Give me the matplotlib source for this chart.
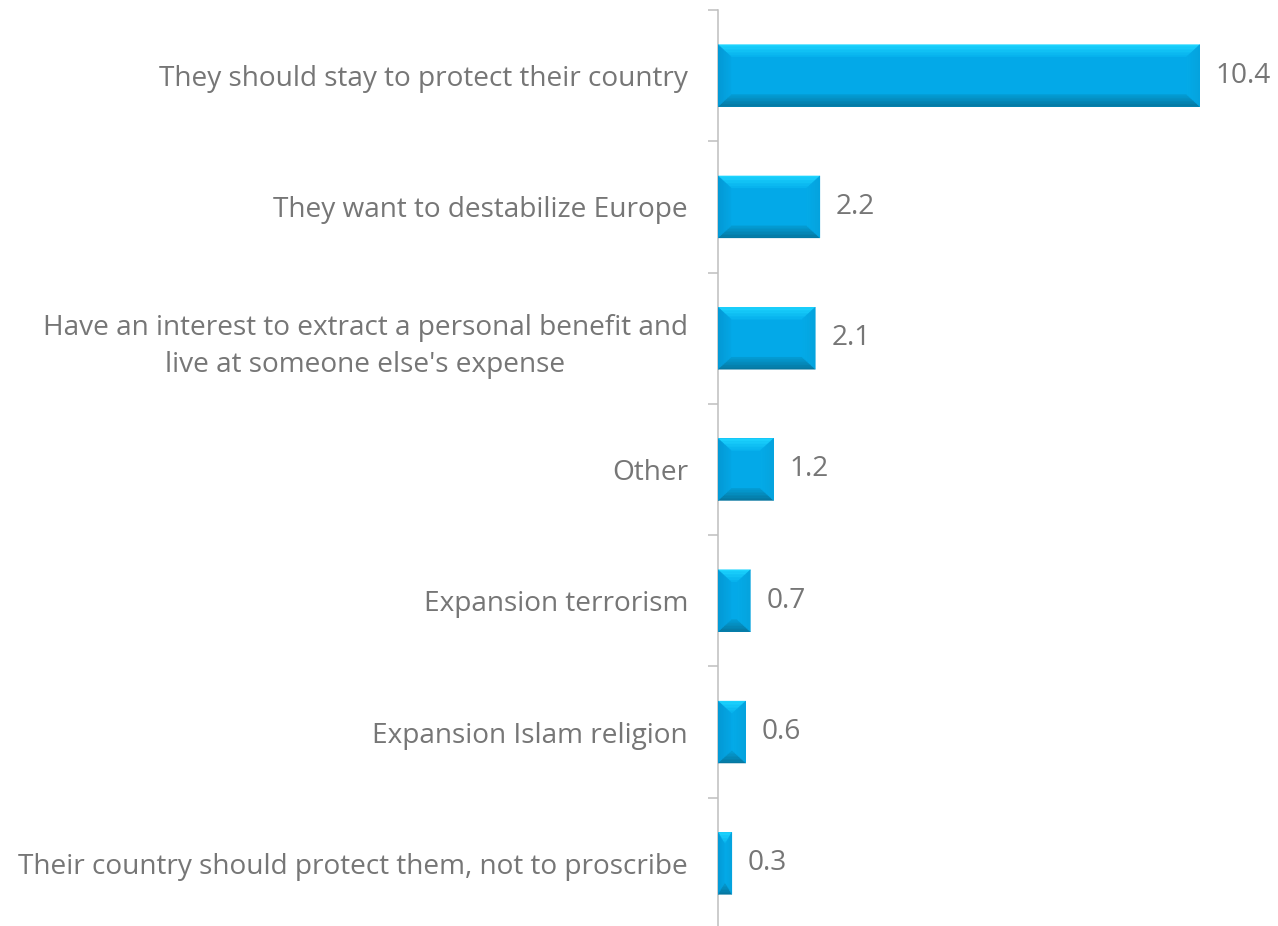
import numpy as np
import matplotlib.pyplot as plt
from matplotlib.patches import Polygon
from matplotlib.colors import to_rgb

# Reasons, top to bottom
labels = [
    "They should stay to protect their country",
    "They want to destabilize Europe",
    "Have an interest to extract a personal benefit and\nlive at someone else's expense",
    "Other",
    "Expansion terrorism",
    "Expansion Islam religion",
    "Their country should protect them, not to proscribe",
]
values = [10.4, 2.2, 2.1, 1.2, 0.7, 0.6, 0.3]

text_color = "#767676"
face = "#03A9E8"
# (outer edge colour, inner colour) for each bevel side
top_c = ("#1ED6FF", "#07B2EE")
bottom_c = ("#06759C", "#049CD4")
left_c = ("#0398D4", "#04A6E4")
right_c = ("#05A2DD", "#04ABE8")

plt.rcParams["font.family"] = ["Open Sans", "DejaVu Sans"]


def mix(c0, c1, f):
    a, b = np.array(to_rgb(c0)), np.array(to_rgb(c1))
    return tuple(a + (b - a) * f)


fig = plt.figure(figsize=(12.78, 9.26), dpi=100)
ax = fig.add_axes([0.5618, -0.0032, 0.435, 0.9924])

n = len(values)
ypos = np.arange(n)[::-1]
bar_h = 0.472

ax.barh(ypos, values, height=bar_h, color=face, edgecolor="none", zorder=2)
ax.set_xlim(0, 12)
ax.set_ylim(-0.5, n - 0.5)

# bevel size in pixels, converted to data units through the axes transform
fig.canvas.draw()
inv = ax.transData.inverted()
p0 = inv.transform((0, 0))
p1 = inv.transform((13, 12))
bx = p1[0] - p0[0]
by = p1[1] - p0[1]

steps = 8
for y, v in zip(ypos, values):
    t, b = y + bar_h / 2, y - bar_h / 2
    dx = min(bx, v / 2)
    dy = min(by, bar_h / 2)
    for k in range(steps):
        f0, f1 = k / steps, (k + 1) / steps
        fm = (k + 0.5) / steps
        bands = [
            ([(dx * f0, t - dy * f0), (v - dx * f0, t - dy * f0),
              (v - dx * f1, t - dy * f1), (dx * f1, t - dy * f1)], top_c),
            ([(dx * f0, b + dy * f0), (v - dx * f0, b + dy * f0),
              (v - dx * f1, b + dy * f1), (dx * f1, b + dy * f1)], bottom_c),
            ([(dx * f0, t - dy * f0), (dx * f1, t - dy * f1),
              (dx * f1, b + dy * f1), (dx * f0, b + dy * f0)], left_c),
            ([(v - dx * f0, t - dy * f0), (v - dx * f1, t - dy * f1),
              (v - dx * f1, b + dy * f1), (v - dx * f0, b + dy * f0)], right_c),
        ]
        for pts, (c_out, c_in) in bands:
            col = mix(c_out, c_in, fm)
            ax.add_patch(Polygon(pts, closed=True, facecolor=col, edgecolor=col,
                                 linewidth=0.3, zorder=3))
    ax.annotate(f"{v:.1f}", (v, y), xytext=(11.5, 0), textcoords="offset points",
                va="center", ha="left", fontsize=20.2, color=text_color)

ax.set_yticks(ypos)
ax.set_yticklabels(labels, fontsize=20.2, color=text_color)
for lab in ax.get_yticklabels():
    lab.set_multialignment("center")
    lab.set_linespacing(1.45)
ax.tick_params(axis="y", which="major", length=0, pad=21.6)
ax.set_yticks(np.arange(-0.5, n, 1.0), minor=True)
ax.tick_params(axis="y", which="minor", length=7, width=1.1, color="#BFBFBF")

ax.set_xticks([])
for s in ["top", "right", "bottom"]:
    ax.spines[s].set_visible(False)
ax.spines["left"].set_color("#BFBFBF")
ax.spines["left"].set_linewidth(1.1)

fig.savefig("out.png", dpi=100)
